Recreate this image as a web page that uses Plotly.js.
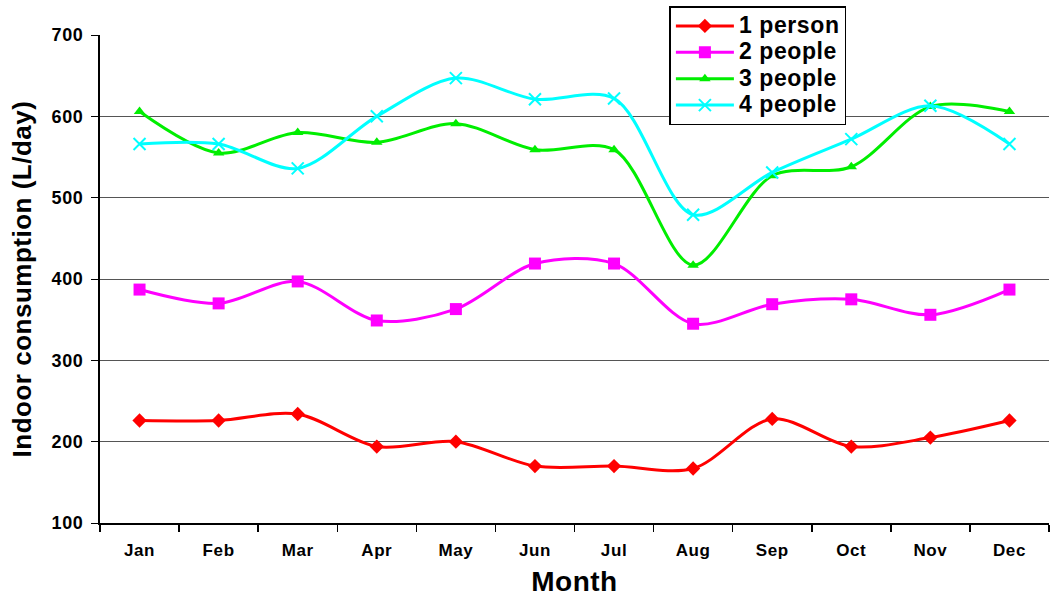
<!DOCTYPE html>
<html>
<head>
<meta charset="utf-8">
<script src="https://cdn.plot.ly/plotly-3.0.1.min.js"></script>
<style>
html,body{margin:0;padding:0;background:#fff}
#chart{width:1051px;height:597px}
.legendtext{font-size:23px !important; letter-spacing:0.6px}
#chart .xtick text, #chart .ytick text{letter-spacing:0.6px}
#chart .g-xtitle text, #chart .g-ytitle text{letter-spacing:0.5px}
</style>
</head>
<body>
<div id="chart"></div>
<script>
const months = ["Jan","Feb","Mar","Apr","May","Jun","Jul","Aug","Sep","Oct","Nov","Dec"];
const seriesNames = ["1 person","2 people","3 people","4 people"];
const onePerson = [226,226,234,194,200,170,170,167,228,194,205,226];
const twoPeople = [387,370,397,349,363,419,419,345,369,375,356,387];
const threePeople = [606,555,580,568,591,559,559,417,527,538,612,606];
const fourPeople = [566,566,536,600,647,621,622,479,531,572,613,566];
const yTicks = [100,200,300,400,500,600,700];

const colors = ["#ff0000","#ff00ff","#00ee00","#00ffff"];
const symbols = ["diamond","square","triangle-up","x-thin"];
const sizes = [11,12,10,12];
const values = [onePerson,twoPeople,threePeople,fourPeople];

const traces = values.map((v,i)=>({
  x: months, y: v, name: seriesNames[i], type:"scatter", mode:"lines+markers",
  line:{color:colors[i], width:3, shape:"spline", smoothing:0.9},
  marker:{color:colors[i], symbol:symbols[i], size:sizes[i], line:{color:colors[i], width: i===3?2:0}}
}));

const layout = {
  width:1051, height:597,
  margin:{l:100, r:2, t:35, b:74},
  paper_bgcolor:"#fff", plot_bgcolor:"#fff",
  font:{family:"Liberation Sans, Arial, sans-serif", color:"#000"},
  showlegend:true,
  legend:{x:0.6, y:1.059, xanchor:"left", yanchor:"top", bgcolor:"#fff", bordercolor:"#000", borderwidth:1.5,
    font:{size:18, weight:"bold", color:"#000"}, tracegroupgap:0, itemwidth:58},
  xaxis:{
    type:"category", categoryarray: months,
    showline:true, linecolor:"#000", linewidth:2,
    ticks:"outside", tickson:"boundaries", ticklen:7, tickcolor:"#000", tickwidth:1.5,
    ticklabelstandoff:11,
    showgrid:false, zeroline:false,
    tickfont:{size:17, weight:"bold"},
    title:{text:"Month", font:{size:28, weight:"bold"}, standoff:12},
    range:[-0.5,11.5]
  },
  yaxis:{
    range:[100,700], tickvals:yTicks, ticktext: yTicks.map(String),
    showline:true, linecolor:"#000", linewidth:2,
    ticks:"outside", ticklen:7, tickcolor:"#000",
    ticklabelstandoff:4,
    showgrid:true, gridcolor:"#555", gridwidth:1,
    zeroline:false,
    tickfont:{size:18, weight:"bold"},
    title:{text:"Indoor consumption (L/day)", font:{size:26, weight:"bold"}, standoff:14}
  }
};
Plotly.newPlot("chart", traces, layout, {displayModeBar:false, staticPlot:true});
</script>
</body>
</html>
